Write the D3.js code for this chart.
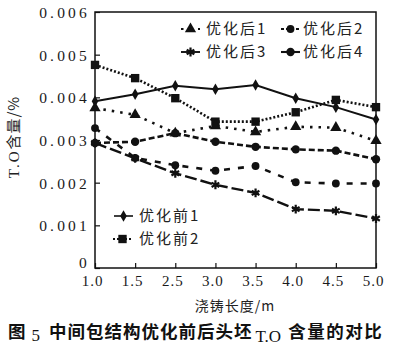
<!DOCTYPE html>
<html><head><meta charset="utf-8">
<script src="https://cdn.jsdelivr.net/npm/d3@7"></script>
<style>body{margin:0;background:#fff}svg{display:block}</style>
</head><body>
<svg id="c" width="403" height="357"></svg>
<script>
const categories = ["1.0","1.5","2.5","3.0","3.5","4.0","4.5","5.0"];
const before1 = [0.00391,0.00407,0.00427,0.00419,0.00429,0.00398,0.00377,0.00348];
const before2 = [0.00476,0.00445,0.00398,0.00343,0.00343,0.00365,0.00394,0.00377];
const after1  = [0.00375,0.00359,0.00316,0.00333,0.00319,0.00331,0.00329,0.00298];
const after2  = [0.00328,0.00258,0.00241,0.00228,0.00239,0.00201,0.00198,0.00198];
const after3  = [0.00293,0.00257,0.00222,0.00195,0.00176,0.00138,0.00134,0.00116];
const after4  = [0.00293,0.00296,0.00316,0.00296,0.00284,0.00278,0.00275,0.00255];
const seriesNames = ["优化前1","优化前2","优化后1","优化后2","优化后3","优化后4"];
const yTicks = [0,0.001,0.002,0.003,0.004,0.005,0.006];
const yTickLabels = ["0","0.001","0.002","0.003","0.004","0.005","0.006"];
const xTitle = "浇铸长度/m";
const captionParts = ["图","5","中间包结构优化前后头坯","T.O","含量的对比"];

const svg = d3.select("#c");
const L=95,R=376,T=12,B=268;
const x = d3.scalePoint().domain(categories).range([L,R]).padding(0);
const y = d3.scaleLinear().domain([0,0.006]).range([B,T]);
const serif = "'Liberation Serif','DejaVu Serif',serif";
const cjk = "'Noto Sans CJK SC','Noto Sans CJK JP',sans-serif";

const styles = [
  {v:before1, dash:null, w:2, sym:d3.symbolDiamond, size:38},
  {v:before2, dash:"2,2", w:2.6, sym:d3.symbolSquare, size:70},
  {v:after1, dash:"2.5,6", w:2.6, sym:d3.symbolTriangle, size:55},
  {v:after2, dash:"6,8", w:2.6, sym:d3.symbolCircle, size:48},
  {v:after3, dash:"12,4", w:2.4, sym:d3.symbolAsterisk, size:55, stroke:true},
  {v:after4, dash:"6,3", w:2.6, sym:d3.symbolCircle, size:55}
];

// axes
const xAxis = d3.axisBottom(x).tickSize(-5).tickFormat(()=>"");
const gx = svg.append("g").attr("transform",`translate(0,${B})`).call(xAxis);
gx.select(".domain").remove();
gx.selectAll("line").attr("stroke","#111").attr("stroke-width",1.2);
gx.selectAll(".tick").append("text").attr("fill","#1a1a1a")
  .attr("y",18).attr("dx",-3).attr("text-anchor","middle")
  .style("font-family",serif).style("font-size","15px").style("letter-spacing","1px")
  .text(d=>d);

const yAxis = d3.axisLeft(y).tickValues(yTicks).tickSize(-5).tickFormat((d,i)=>yTickLabels[i]);
const gy = svg.append("g").attr("transform",`translate(${L},0)`).call(yAxis);
gy.select(".domain").remove();
gy.selectAll("line").attr("stroke","#111").attr("stroke-width",1.2);
gy.selectAll("text").attr("x",-5).attr("dy",(d)=>d===0?"-0.05em":"0.35em").attr("fill","#1a1a1a")
  .style("font-family",serif).style("font-size","15.5px").style("letter-spacing","3.2px");

svg.append("rect").attr("x",L).attr("y",T).attr("width",R-L).attr("height",B-T)
  .attr("fill","none").attr("stroke","#111").attr("stroke-width",1.5);

// lines
const line = d3.line().x((d,i)=>x(categories[i])).y(d=>y(d));
styles.forEach(s=>{
  svg.append("path").datum(s.v).attr("d",line).attr("fill","none")
    .attr("stroke","#111").attr("stroke-width",s.w)
    .attr("stroke-dasharray",s.dash);
});
function mark(g,s,cx,cy){
  const p = g.append("path").attr("d",d3.symbol(s.sym,s.size)())
    .attr("transform",`translate(${cx},${cy})`);
  if(s.stroke) p.attr("fill","none").attr("stroke","#111").attr("stroke-width",2.2);
  else p.attr("fill","#111");
}
styles.forEach(s=>{
  s.v.forEach((d,i)=>mark(svg,s,x(categories[i]),y(d)));
});

// legends
const legendItems = [
  {i:2, lx:181, ly:29, tx:206},
  {i:3, lx:281, ly:29, tx:303},
  {i:4, lx:181, ly:52, tx:206},
  {i:5, lx:281, ly:52, tx:303},
  {i:0, lx:114, ly:216, tx:139},
  {i:1, lx:113, ly:239, tx:139}
];
legendItems.forEach(it=>{
  const s = styles[it.i];
  svg.append("line").attr("x1",it.lx).attr("x2",it.lx+19).attr("y1",it.ly).attr("y2",it.ly)
    .attr("stroke","#111").attr("stroke-width",s.w*0.8)
    .attr("stroke-dasharray", it.i===4||it.i===5 ? null : (it.i===3 ? "3,2" : s.dash));
  mark(svg,s,it.lx+9.5,it.ly);
  svg.append("text").attr("x",it.tx).attr("y",it.ly).attr("dy","0.36em")
    .style("font-family",cjk).style("font-size","15px").style("letter-spacing","2px")
    .attr("fill","#222").text(seriesNames[it.i]);
});

// axis titles
svg.append("text").attr("x",235).attr("y",306).attr("dy","0.35em").attr("text-anchor","middle")
  .style("font-family",cjk).style("font-size","14px").style("letter-spacing","1px")
  .attr("fill","#222").text(xTitle);
const yt = svg.append("text").attr("transform","translate(14,137) rotate(-90)")
  .attr("text-anchor","middle").attr("dy","0.35em").attr("fill","#222")
  .style("font-size","15px");
yt.append("tspan").style("font-family",serif).style("letter-spacing","2px").text("T.O");
yt.append("tspan").style("font-family",cjk).style("letter-spacing","1px").text("含量/%");

// caption
const cap = svg.append("text").attr("x",8).attr("y",338).attr("fill","#111")
  .style("font-family",cjk).style("font-size","17.5px").style("font-weight","bold");
cap.append("tspan").text(captionParts[0]);
cap.append("tspan").attr("dx",6).attr("dy",3).style("font-family",serif).style("font-weight","normal").style("font-size","17px").text(captionParts[1]);
cap.append("tspan").attr("dx",9).attr("dy",-3).style("letter-spacing","1px").text(captionParts[2]);
cap.append("tspan").attr("dx",3).attr("dy",4).style("font-family",serif).style("font-weight","normal").style("font-size","17px").text(captionParts[3]);
cap.append("tspan").attr("dx",7).attr("dy",-4).style("letter-spacing","1.5px").text(captionParts[4]);
</script>
</body></html>
